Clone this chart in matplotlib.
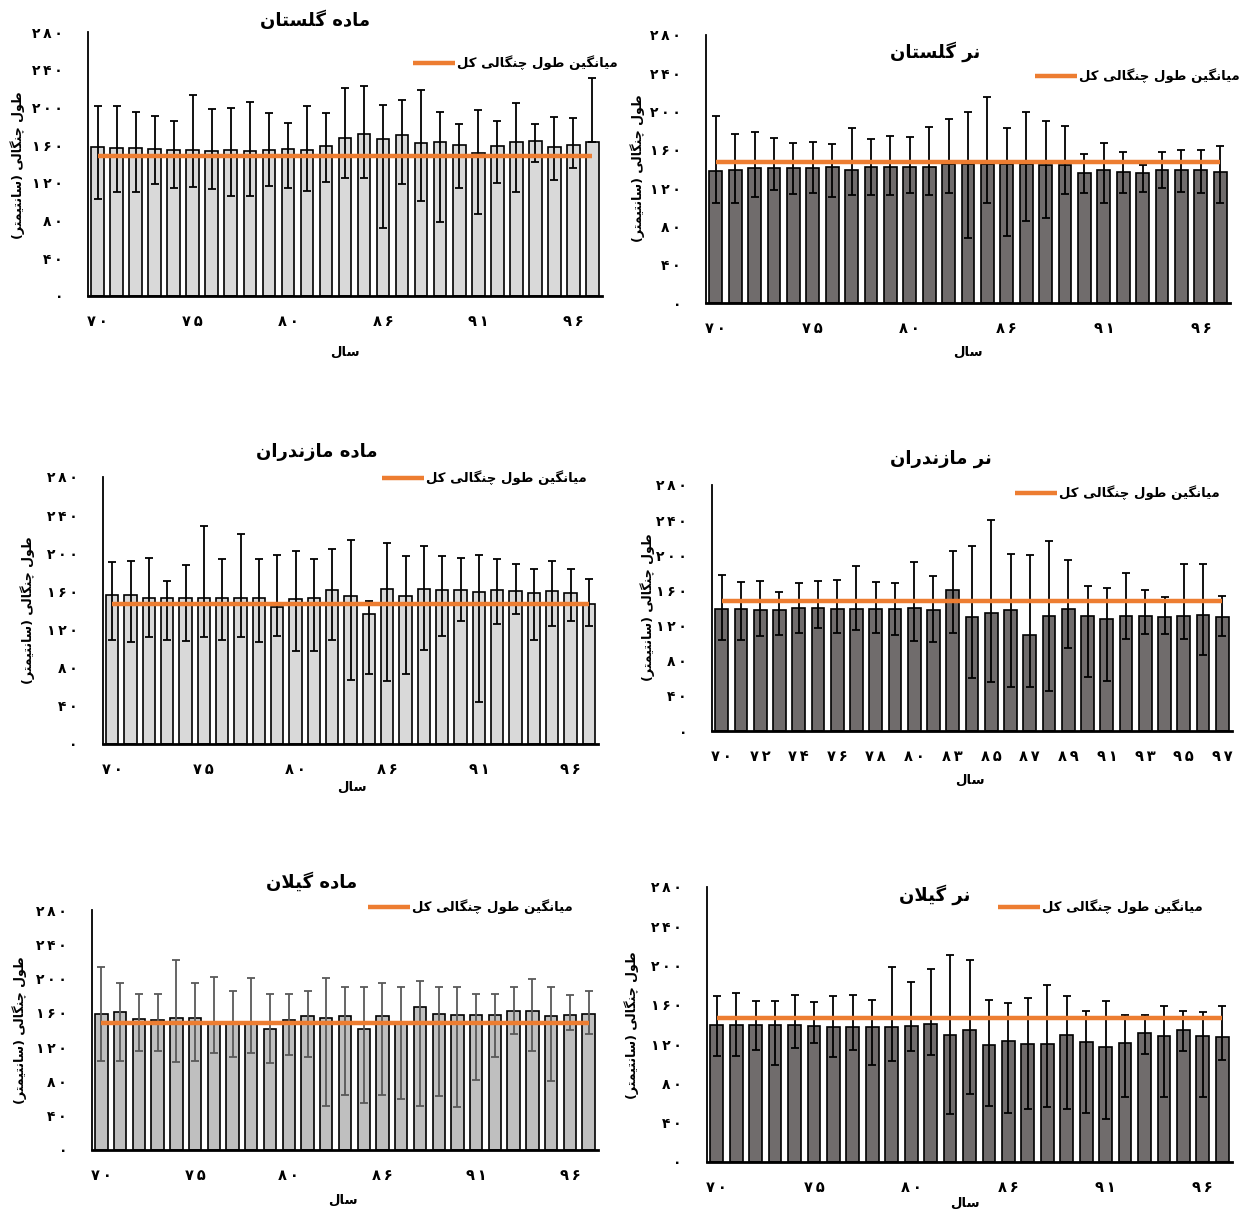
import matplotlib
matplotlib.use('Agg')
import matplotlib.pyplot as plt

plt.rcParams['font.family'] = ['DejaVu Sans']
plt.rcParams['font.weight'] = 'bold'

# ---- data: mean claw length (cm) per year, with error-bar limits ----
years = [70, 71, 72, 73, 74, 75, 76, 77, 78, 79, 80, 81, 82, 83, 84,
         86, 87, 88, 89, 90, 91, 92, 93, 94, 95, 96, 97]
years_maz_m = [70, 71, 72, 73, 74, 75, 76, 77, 78, 79, 80, 81, 83, 84, 85,
               86, 87, 88, 89, 90, 91, 92, 93, 94, 95, 96, 97]

gol_f_mean = [158, 157, 157, 156, 155, 155, 154, 155, 154, 155, 156, 155, 159, 168,
              172, 167, 171, 162, 163, 160, 152, 159, 163, 164, 158, 160, 163]
gol_f_hi = [201, 201, 195, 191, 186, 213, 198, 199, 206, 194, 184, 201, 194, 221,
            223, 203, 208, 219, 195, 182, 197, 186, 205, 182, 190, 189, 231]
gol_f_lo = [103, 110, 110, 119, 115, 116, 113, 106, 106, 117, 115, 111, 121, 125,
            125, 72, 119, 101, 78, 115, 87, 120, 110, 142, 123, 136, 163]
gol_f_all = 148

gol_m_mean = [138, 139, 141, 141, 141, 141, 142, 139, 142, 142, 142, 142, 145, 145,
              145, 145, 145, 144, 144, 136, 139, 137, 136, 139, 139, 139, 137]
gol_m_hi = [195, 177, 179, 172, 167, 168, 166, 183, 171, 175, 173, 184, 192, 200,
            215, 183, 200, 190, 185, 156, 167, 158, 144, 158, 160, 160, 164]
gol_m_lo = [105, 105, 111, 118, 114, 115, 111, 113, 113, 113, 115, 113, 115, 68,
            104, 70, 86, 89, 114, 115, 105, 115, 116, 120, 116, 115, 105]
gol_m_all = 147

maz_f_mean = [156, 156, 153, 153, 153, 153, 153, 153, 153, 144, 152, 153, 162, 155,
              136, 163, 155, 163, 162, 162, 159, 161, 160, 158, 160, 158, 147]
maz_f_hi = [191, 192, 195, 171, 188, 229, 194, 220, 194, 198, 202, 194, 204, 214,
            150, 211, 197, 208, 197, 195, 198, 194, 189, 184, 192, 184, 173]
maz_f_lo = [109, 107, 112, 109, 108, 112, 109, 112, 107, 113, 98, 98, 109, 67,
            73, 66, 73, 99, 113, 129, 44, 126, 136, 109, 124, 129, 124]
maz_f_all = 147

maz_m_mean = [139, 139, 138, 138, 140, 140, 139, 139, 139, 139, 140, 138, 160, 130,
              134, 138, 109, 131, 139, 131, 128, 131, 131, 130, 131, 132, 130]
maz_m_hi = [177, 170, 171, 158, 169, 171, 172, 188, 170, 168, 192, 176, 205, 211,
            240, 202, 200, 216, 195, 165, 163, 180, 160, 152, 190, 190, 154]
maz_m_lo = [104, 104, 108, 109, 112, 117, 112, 115, 111, 109, 103, 101, 112, 60,
            56, 50, 50, 45, 95, 61, 57, 105, 110, 110, 105, 87, 108]
maz_m_all = 148

gil_f_mean = [159, 161, 153, 152, 154, 154, 147, 147, 147, 141, 152, 156, 154, 156,
              141, 156, 147, 167, 159, 157, 158, 157, 162, 162, 156, 158, 159]
gil_f_hi = [214, 195, 182, 182, 222, 195, 202, 186, 201, 182, 182, 186, 201, 190,
            190, 195, 190, 197, 190, 190, 182, 182, 190, 200, 190, 181, 186]
gil_f_lo = [104, 104, 115, 116, 103, 104, 113, 109, 113, 102, 111, 109, 51, 64,
            55, 64, 59, 51, 63, 50, 82, 109, 135, 115, 81, 140, 135]
gil_f_all = 148

gil_m_mean = [140, 140, 139, 140, 140, 138, 137, 137, 137, 137, 138, 141, 129, 134,
              119, 123, 120, 120, 129, 122, 117, 121, 131, 128, 134, 128, 127]
gil_m_hi = [169, 172, 164, 164, 170, 163, 169, 170, 165, 199, 183, 197, 211, 206,
            165, 162, 167, 180, 169, 154, 164, 150, 150, 159, 154, 153, 159]
gil_m_lo = [108, 108, 114, 99, 116, 121, 107, 114, 99, 103, 113, 109, 49, 69,
            57, 50, 54, 56, 54, 50, 44, 66, 110, 66, 113, 66, 104]
gil_m_all = 147

y_ticks = [0, 40, 80, 120, 160, 200, 240, 280]

# ---- persian text helpers (matplotlib does no arabic shaping) ----
FORMS = {
    'ا': (0xFE8D, 0xFE8E, None, None),
    'د': (0xFEA9, 0xFEAA, None, None),
    'ر': (0xFEAD, 0xFEAE, None, None),
    'ز': (0xFEAF, 0xFEB0, None, None),
    'و': (0xFEED, 0xFEEE, None, None),
    'ه': (0xFEE9, 0xFEEA, 0xFEEB, 0xFEEC),
    'م': (0xFEE1, 0xFEE2, 0xFEE3, 0xFEE4),
    'ن': (0xFEE5, 0xFEE6, 0xFEE7, 0xFEE8),
    'ل': (0xFEDD, 0xFEDE, 0xFEDF, 0xFEE0),
    'س': (0xFEB1, 0xFEB2, 0xFEB3, 0xFEB4),
    'ت': (0xFE95, 0xFE96, 0xFE97, 0xFE98),
    'ط': (0xFEC1, 0xFEC2, 0xFEC3, 0xFEC4),
    'ک': (0xFB8E, 0xFB8F, 0xFB90, 0xFB91),
    'گ': (0xFB92, 0xFB93, 0xFB94, 0xFB95),
    'چ': (0xFB7A, 0xFB7B, 0xFB7C, 0xFB7D),
    'ی': (0xFBFC, 0xFBFD, 0xFBFE, 0xFBFF),
}
DUAL = {c for c, f in FORMS.items() if f[2] is not None}


def fa(s):
    out = []
    i = 0
    while i < len(s):
        c = s[i]
        if c in FORMS:
            jp = i > 0 and s[i - 1] in DUAL
            if c == 'ل' and i + 1 < len(s) and s[i + 1] == 'ا':
                out.append(chr(0xFEFC if jp else 0xFEFB))
                i += 2
                continue
            jn = c in DUAL and i + 1 < len(s) and s[i + 1] in FORMS
            iso, fin, ini, med = FORMS[c]
            g = med if (jp and jn) else fin if jp else ini if jn else iso
            out.append(chr(g))
        else:
            out.append(c)
        i += 1
    return ''.join(reversed(out)).translate(str.maketrans('()', ')('))


def fa_num(n):
    digits = str(n).translate(str.maketrans('0123456789', '۰۱۲۳۴۵۶۷۸۹'))
    return '\u2009'.join(digits)


W, H = 1240, 1211
fig = plt.figure(figsize=(W / 100, H / 100), dpi=100)


def px(x, y):
    return x / W, 1 - y / H


light, mid, dark = '#d9d9d9', '#bfbfbf', '#706c6c'
orange = '#ed7d31'

panels = [
    # title, years, mean, hi, lo, overall, bar colour, err colour, tick step,
    # axes box (px), title xy, legend anchor, xlabel xy, ylabel xy
    ('ماده گلستان', years, gol_f_mean, gol_f_hi, gol_f_lo, gol_f_all, light, 'black', 5,
     (88, 32, 602, 296), (315, 20), (618, 63), (345, 352), (18, 165)),
    ('نر گلستان', years, gol_m_mean, gol_m_hi, gol_m_lo, gol_m_all, dark, 'black', 5,
     (706, 35, 1230, 303), (935, 52), (1240, 76), (968, 352), (638, 168)),
    ('ماده مازندران', years, maz_f_mean, maz_f_hi, maz_f_lo, maz_f_all, light, 'black', 5,
     (103, 477, 598, 744), (317, 452), (587, 478), (352, 787), (28, 610)),
    ('نر مازندران', years_maz_m, maz_m_mean, maz_m_hi, maz_m_lo, maz_m_all, dark, 'black', 2,
     (712, 485, 1232, 731), (941, 459), (1220, 493), (970, 780), (648, 607)),
    ('ماده گیلان', years, gil_f_mean, gil_f_hi, gil_f_lo, gil_f_all, mid, '#595959', 5,
     (92, 910, 598, 1150), (312, 882), (573, 907), (343, 1200), (20, 1030)),
    ('نر گیلان', years, gil_m_mean, gil_m_hi, gil_m_lo, gil_m_all, dark, 'black', 5,
     (707, 887, 1232, 1162), (935, 895), (1203, 907), (965, 1203), (632, 1025)),
]

for (title, yrs, mean, hi, lo, overall, bcol, ecol, step,
     box, title_xy, leg_xy, xl_xy, yl_xy) in panels:
    x0, y0, x1, y1 = box
    ax = fig.add_axes([x0 / W, 1 - y1 / H, (x1 - x0) / W, (y1 - y0) / H])
    x = list(range(len(yrs)))
    err = [[m - l for m, l in zip(mean, lo)], [h - m for m, h in zip(mean, hi)]]
    ax.bar(x, mean, width=0.66, color=bcol, edgecolor='black', linewidth=1.2, zorder=2)
    ax.errorbar(x, mean, yerr=err, fmt='none', ecolor=ecol, elinewidth=1.3,
                capsize=3, capthick=1.3, zorder=3)
    line, = ax.plot([x[0], x[-1]], [overall, overall], color=orange, lw=3.2, zorder=4,
                    solid_capstyle='butt', label=fa('میانگین طول چنگالی کل'))

    ax.set_xlim(-0.5, len(yrs) - 0.5)
    ax.set_ylim(0, 280)
    ax.set_yticks(y_ticks)
    ax.set_yticklabels([fa_num(v) for v in y_ticks], fontsize=10, fontweight='bold')
    ax.set_xticks(x[::step])
    ax.set_xticklabels([fa_num(yrs[i]) for i in x[::step]], fontsize=10.5,
                       fontweight='bold')
    ax.tick_params(axis='y', length=0, pad=18)
    ax.tick_params(axis='x', length=0, pad=13)
    for s in ('top', 'right'):
        ax.spines[s].set_visible(False)
    ax.spines['left'].set_linewidth(1.3)
    ax.spines['bottom'].set_linewidth(2)
    ax.set_facecolor('none')

    fig.text(*px(*title_xy), fa(title), ha='center', va='center', fontsize=13,
             fontweight='bold')
    fig.text(*px(*xl_xy), fa('سال'), ha='center', va='center', fontsize=9.5,
             fontweight='bold')
    fig.text(*px(*yl_xy), fa('طول چنگالی (سانتیمتر)'), ha='center', va='center',
             rotation=90, fontsize=9, fontweight='bold')
    ax.legend(handles=[line], loc='center right', bbox_to_anchor=px(*leg_xy),
              bbox_transform=fig.transFigure, frameon=False, borderpad=0,
              borderaxespad=0, handlelength=3.2, handletextpad=0.15,
              prop={'size': 9.5, 'weight': 'bold'})

fig.savefig('out.png', dpi=100)
